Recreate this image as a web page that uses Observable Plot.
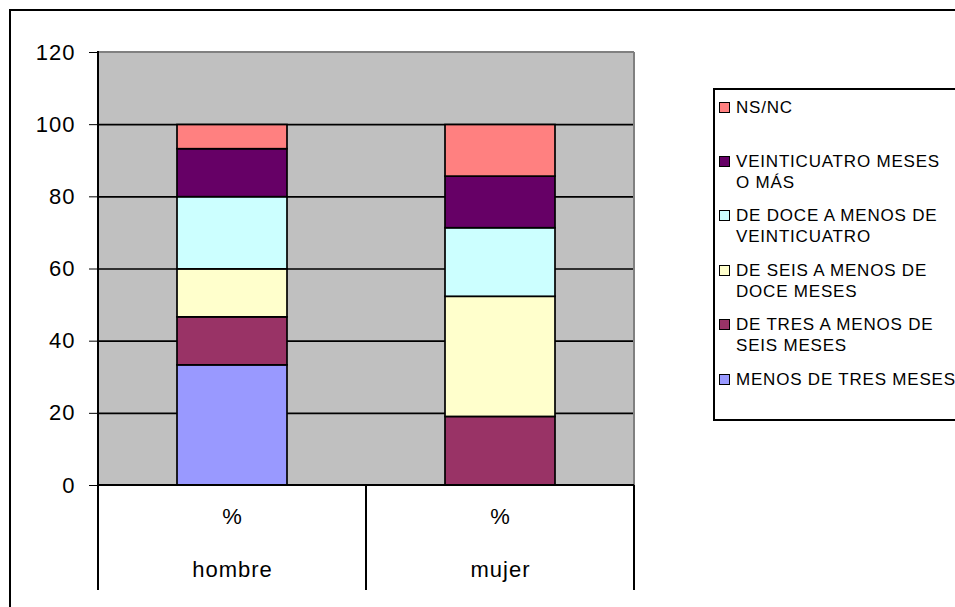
<!DOCTYPE html>
<html><head><meta charset="utf-8">
<script src="https://cdn.jsdelivr.net/npm/d3@7"></script>
<script src="https://cdn.jsdelivr.net/npm/@observablehq/plot@0.6"></script>
<style>
html,body{margin:0;padding:0;background:#fff;overflow:hidden;width:955px;height:607px;}
#wrap{position:relative;width:955px;height:607px;overflow:hidden;font-family:"Liberation Sans",Arial,sans-serif;}
#outer{position:absolute;left:9px;top:9px;width:1000px;height:700px;border:2px solid #000;box-sizing:border-box;}
#chart{position:absolute;left:0;top:0;}
#legend{position:absolute;left:713px;top:88px;width:300px;height:333px;border:2px solid #000;box-sizing:border-box;background:#fff;}
.item{position:absolute;left:4px;display:flex;align-items:flex-start;}
.sw{width:9px;height:9px;border:1px solid #000;margin-top:5px;margin-right:6px;flex:none;}
.lbl{font-size:17px;line-height:21px;letter-spacing:0.8px;color:#000;white-space:pre;}
</style></head>
<body>
<div id="wrap"><div id="outer"></div><div id="chart"></div><div id="legend"></div></div>
<script>
const groups = ["hombre", "mujer"];
const series = [
  "MENOS DE TRES MESES",
  "DE TRES A MENOS DE SEIS MESES",
  "DE SEIS A MENOS DE DOCE MESES",
  "DE DOCE A MENOS DE VEINTICUATRO",
  "VEINTICUATRO MESES O MÁS",
  "NS/NC"
];
const hombre = [33.3, 13.3, 13.3, 20.0, 13.3, 6.7];
const mujer = [0, 19.0, 33.3, 19.0, 14.3, 14.3];
const colors = ["#9999FF", "#993366", "#FFFFCC", "#CCFFFF", "#660066", "#FF8080"];
const yTicks = [0, 20, 40, 60, 80, 100, 120];
const subLabel = "%";
// legend text, top to bottom, with its line breaks
const legendLabels = [
  "NS/NC",
  "VEINTICUATRO MESES\nO MÁS",
  "DE DOCE A MENOS DE\nVEINTICUATRO",
  "DE SEIS A MENOS DE\nDOCE MESES",
  "DE TRES A MENOS DE\nSEIS MESES",
  "MENOS DE TRES MESES"
];
const legendColors = colors.slice().reverse();

const valuesByGroup = [hombre, mujer];
const rows = groups.flatMap((g, gi) =>
  series.map((s, si) => ({group: g, series: s, value: valuesByGroup[gi][si]}))
).filter(d => d.value > 0);

function structure(index, scales, values, dims) {
  const x = scales.x, y = scales.y;
  const bw = x.bandwidth ? x.bandwidth() : 109;
  const st = x.step ? x.step() : 268;
  const y0 = y(0), yTop = y(120);
  const left = dims.marginLeft, right = dims.width - dims.marginRight;
  const g = d3.create("svg:g");
  g.append("line").attr("x1", left).attr("x2", right).attr("y1", yTop).attr("y2", yTop)
    .attr("stroke", "#808080").attr("stroke-width", 2);
  g.append("line").attr("x1", right).attr("x2", right).attr("y1", yTop).attr("y2", y0)
    .attr("stroke", "#808080").attr("stroke-width", 2);
  g.append("line").attr("x1", left).attr("x2", left).attr("y1", yTop - 1).attr("y2", y0)
    .attr("stroke", "#000").attr("stroke-width", 2);
  g.append("line").attr("x1", left).attr("x2", right).attr("y1", y0).attr("y2", y0)
    .attr("stroke", "#000").attr("stroke-width", 2);
  const bounds = groups.map(c => x(c) + bw / 2 - st / 2);
  bounds.push(x(groups[groups.length - 1]) + bw / 2 + st / 2);
  for (const b of bounds) {
    g.append("line").attr("x1", b).attr("x2", b).attr("y1", y0).attr("y2", y0 + 105)
      .attr("stroke", "#000").attr("stroke-width", 2);
  }
  return g.node();
}

const chart = Plot.plot({
  width: 955,
  height: 607,
  marginLeft: 98,
  marginRight: 321,
  marginTop: 52,
  marginBottom: 122,
  style: {background: "transparent", fontFamily: "'Liberation Sans', Arial, sans-serif", fontSize: "22px", color: "#000", letterSpacing: "1px"},
  x: {domain: groups, paddingInner: 0.59, paddingOuter: 0.295, axis: null},
  y: {domain: [0, 120], ticks: yTicks, tickSize: 9, tickPadding: 14, label: null, tickFormat: d => String(d)},
  color: {domain: series, range: colors},
  marks: [
    Plot.frame({fill: "#C0C0C0", stroke: "none"}),
    Plot.ruleY(yTicks.filter(t => t > 0 && t < 120), {stroke: "#000", strokeWidth: 1.7}),
    Plot.barY(rows, {x: "group", y: "value", fill: "series", stroke: "#000", strokeWidth: 1.7}),
    structure,
    Plot.text(groups, {x: d => d, text: () => subLabel, frameAnchor: "bottom", dy: 38, fontSize: 22, fill: "#000"}),
    Plot.text(groups, {x: d => d, text: d => d, frameAnchor: "bottom", dy: 91, fontSize: 22, fill: "#000", style: {letterSpacing: "1.5px"}})
  ]
});
document.getElementById("chart").appendChild(chart);

const legend = document.getElementById("legend");
legendLabels.forEach((lab, i) => {
  const item = document.createElement("div");
  item.className = "item";
  item.style.top = (6.5 + i * 54.4) + "px";
  const sw = document.createElement("span");
  sw.className = "sw";
  sw.style.background = legendColors[i];
  const t = document.createElement("span");
  t.className = "lbl";
  t.textContent = lab;
  item.appendChild(sw);
  item.appendChild(t);
  legend.appendChild(item);
});
</script>
</body></html>
